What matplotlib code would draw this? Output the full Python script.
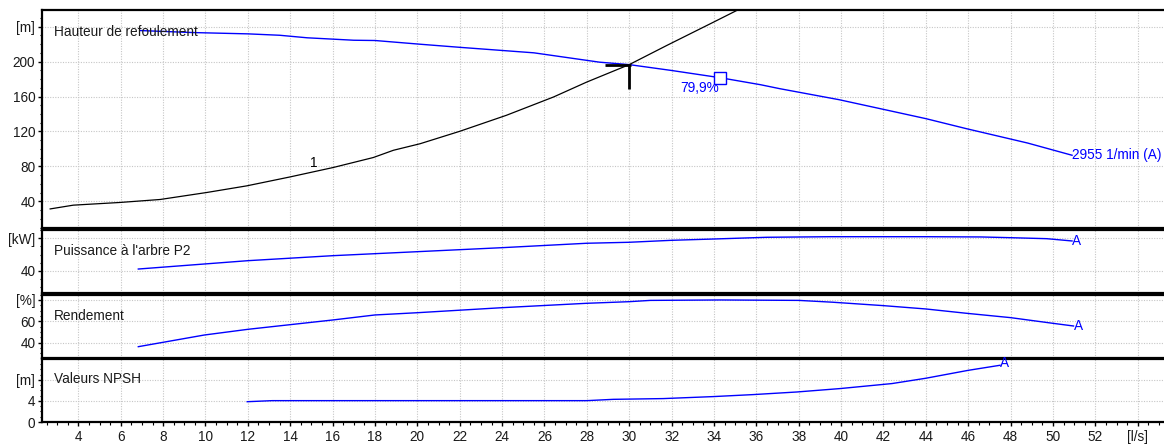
import matplotlib
matplotlib.use("Agg")
import matplotlib.pyplot as plt
from matplotlib.ticker import FixedLocator, MultipleLocator, FixedFormatter, NullFormatter

plt.rcParams['font.family'] = ['Liberation Sans', 'DejaVu Sans']
plt.rcParams['font.size'] = 9.8

# ---- pump data (flow in l/s) ----
head_q = [6.9, 9.4, 12.0, 13.5, 14.8, 17.0, 18.0, 20.1, 22.0, 25.5, 28.6, 30.0, 32.0,
          34.3, 36.2, 37.1, 39.9, 42.0, 44.0, 45.9, 48.8, 50.9]
head_h = [235.5, 233.2, 231.7, 230.1, 227.2, 224.4, 224.1, 219.9, 216.3, 210.0, 199.3,
          196.5, 189.8, 181.5, 173.5, 169.0, 156.4, 145.3, 134.7, 123.3, 106.8, 92.8]

system_q = [2.67, 3.76, 5.97, 7.86, 10.06, 11.95, 13.99, 16.03, 17.92, 18.87, 20.13, 22.0,
            24.2, 26.42, 27.99, 30.0, 31.77, 33.97, 35.2]
system_h = [31.4, 35.7, 38.8, 42.2, 50.2, 57.8, 68.0, 78.8, 90.2, 98.5, 106.0, 120.2,
            138.5, 159.4, 176.5, 196.5, 218.4, 245.0, 260.0]

power_q = [6.83, 12.0, 16.0, 20.0, 24.0, 28.0, 30.0, 32.0, 34.0, 36.5, 39.5, 44.0,
           46.6, 48.0, 49.7, 50.9]
power_kw = [42.4, 52.6, 58.7, 63.6, 68.5, 73.9, 75.1, 77.5, 79.1, 81.2, 81.9, 81.9,
            81.6, 80.7, 79.5, 76.7]

eff_q = [6.83, 9.95, 12.0, 16.0, 18.0, 20.0, 24.0, 28.0, 30.0, 31.0, 34.3, 38.0, 39.6,
         42.0, 44.0, 45.9, 48.0, 50.0, 50.97]
eff_pct = [36.3, 47.2, 52.5, 61.2, 65.9, 68.0, 72.7, 76.8, 78.3, 79.5, 79.9, 79.5, 77.8,
           74.6, 71.5, 67.5, 63.4, 58.1, 55.6]

npsh_q = [11.97, 13.15, 20.0, 28.0, 29.25, 31.6, 33.97, 35.86, 37.9, 39.95, 42.4, 44.0,
          46.0, 47.5]
npsh_m = [3.85, 4.05, 4.05, 4.05, 4.3, 4.44, 4.82, 5.2, 5.69, 6.34, 7.29, 8.3, 9.8, 10.76]

op_q, op_h = 30.0, 196.5          # duty point
bep_q, bep_h, bep_eff = 34.3, 181.5, 79.9
speed_label = "2955 1/min (A)"

x_ticks = list(range(4, 56, 2))
x_labels = [str(v) for v in range(4, 54, 2)] + ["[l/s]"]

W, H = 1164, 444
BLUE = "#0000ff"
fig = plt.figure(figsize=(W / 100, H / 100), dpi=100)
LEFT = 41.7


def make_axes(top, bottom):
    ax = fig.add_axes([LEFT / W, 1 - bottom / H, (W - LEFT) / W, (bottom - top) / H])
    ax.set_xlim(2.27, 55.24)
    for s in ("left", "top", "bottom"):
        ax.spines[s].set_linewidth(1.6)
        ax.spines[s].set_color("black")
    ax.spines["right"].set_visible(False)
    ax.xaxis.set_major_locator(FixedLocator(x_ticks))
    ax.xaxis.set_minor_locator(MultipleLocator(0.5))
    ax.grid(True, which="major", ls=(0, (1, 1.3)), color="#c6c6c6", lw=0.8)
    ax.tick_params(axis="y", which="major", direction="out", length=2.6, width=1,
                   pad=2, labelcolor="#1a1a1a")
    ax.tick_params(axis="y", which="minor", direction="out", length=1.6, width=0.8)
    ax.tick_params(axis="x", which="both", length=0, labelbottom=False)
    ax.set_axisbelow(True)
    return ax


def set_y(ax, lim, ticks, labels, minor):
    ax.set_ylim(*lim)
    ax.yaxis.set_major_locator(FixedLocator(ticks))
    ax.yaxis.set_major_formatter(FixedFormatter(labels))
    ax.yaxis.set_minor_locator(MultipleLocator(minor))
    ax.yaxis.set_minor_formatter(NullFormatter())


def label(xpx, ypx, s, **kw):
    fig.text(xpx / W, 1 - ypx / H, s, va="center", ha="left", **kw)


# ---- head panel ----
ax1 = make_axes(10, 228.5)
set_y(ax1, (9, 259), [40, 80, 120, 160, 200, 240], ["40", "80", "120", "160", "200", "[m]"], 10)
ax1.plot(system_q, system_h, color="black", lw=0.9, clip_on=True)
ax1.plot(head_q, head_h, color=BLUE, lw=1.0)
ax1.plot([op_q - 1.15, op_q + 0.1], [op_h, op_h], color="black", lw=2.0, solid_capstyle="butt")
ax1.plot([op_q, op_q], [op_h, op_h - 27.5], color="black", lw=2.0, solid_capstyle="butt")
ax1.plot([bep_q], [bep_h], marker="s", ms=8.5, mfc="white", mec=BLUE, mew=1.0, zorder=5)
ax1.text(bep_q - 0.05, bep_h - 12, f"{bep_eff:.1f}%".replace(".", ","), color=BLUE,
         ha="right", va="center")
ax1.text(head_q[-1], head_h[-1], speed_label, color=BLUE, ha="left", va="center")
ax1.text(15.1, 83.5, "1", color="black", ha="center", va="center")
label(53.5, 32, "Hauteur de refoulement", color="#1a1a1a")

# ---- shaft power panel ----
ax2 = make_axes(230, 293)
set_y(ax2, (13.1, 90.1), [40, 80], ["40", "[kW]"], 10)
ax2.plot(power_q, power_kw, color=BLUE, lw=1.0)
ax2.text(power_q[-1], power_kw[-1], "A", color=BLUE, ha="left", va="center")
label(53.5, 250.7, "Puissance à l'arbre P2", color="#1a1a1a")

# ---- efficiency panel ----
ax3 = make_axes(294.5, 357.5)
set_y(ax3, (26.2, 85.0), [40, 60, 80], ["40", "60", "[%]"], 5)
ax3.plot(eff_q, eff_pct, color=BLUE, lw=1.0)
ax3.text(eff_q[-1], eff_pct[-1], "A", color=BLUE, ha="left", va="center")
label(53.5, 315.7, "Rendement", color="#1a1a1a")

# ---- NPSH panel ----
ax4 = make_axes(359, 422)
set_y(ax4, (0, 11.95), [0, 4, 8], ["0", "4", "[m]"], 1)
ax4.plot(npsh_q, npsh_m, color=BLUE, lw=1.0)
ax4.text(npsh_q[-1], npsh_m[-1] + 0.35, "A", color=BLUE, ha="left", va="center")
label(53.5, 379.3, "Valeurs NPSH", color="#1a1a1a")
ax4.xaxis.set_major_formatter(FixedFormatter(x_labels))
ax4.tick_params(axis="x", which="major", direction="out", length=3, width=1,
                labelbottom=True, pad=2.5, labelcolor="#1a1a1a")
ax4.tick_params(axis="x", which="minor", direction="out", length=1.8, width=0.8)

fig.savefig("out.png", dpi=100)
